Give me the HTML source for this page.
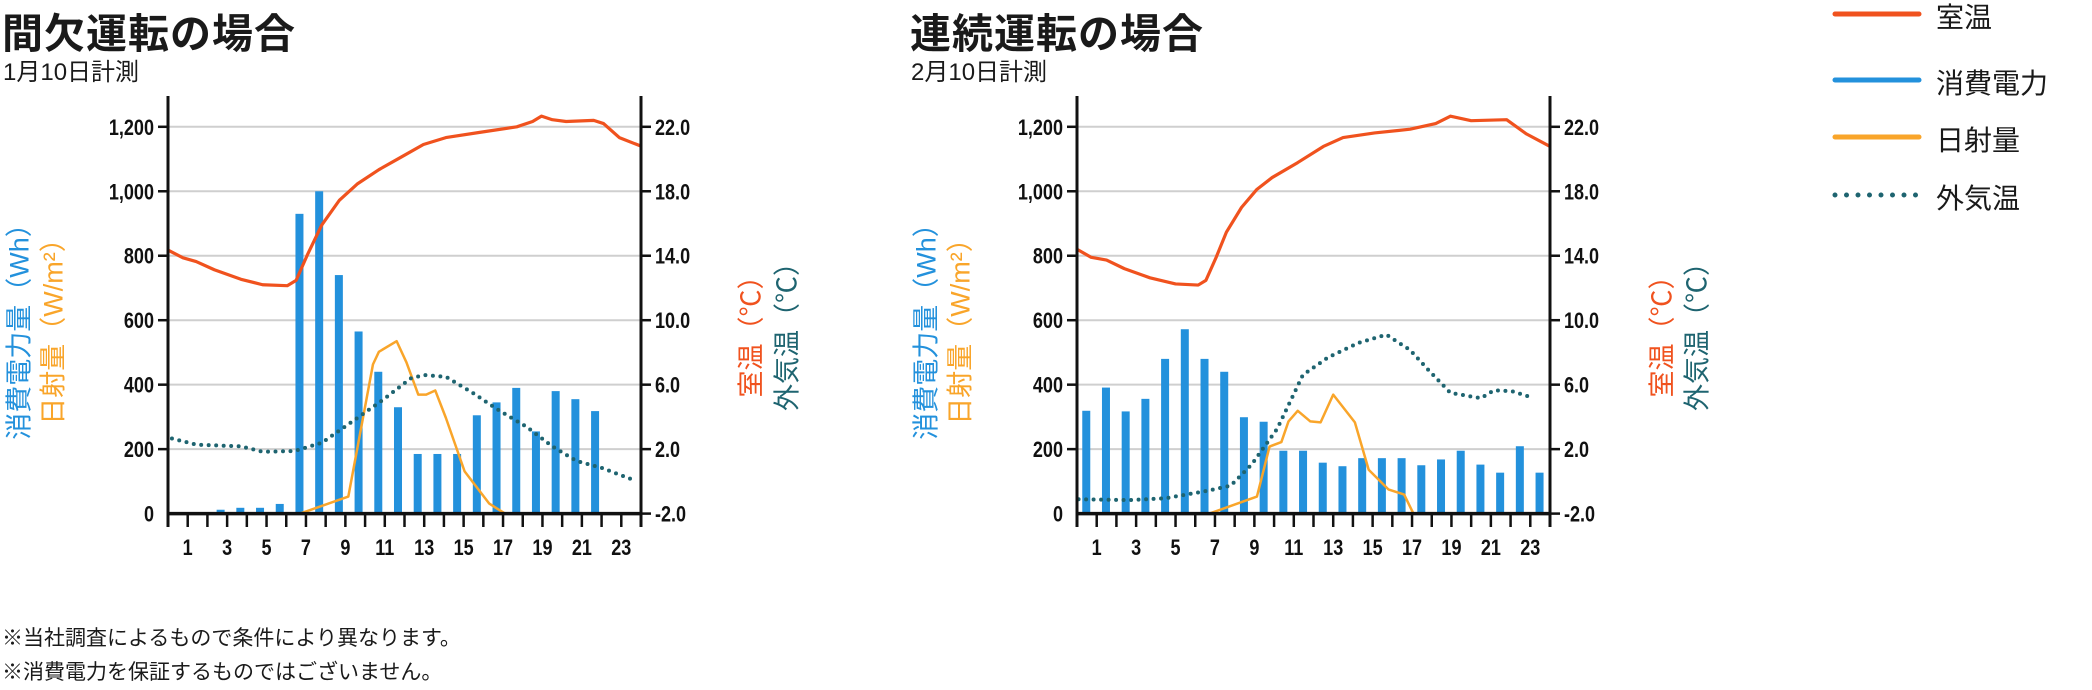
<!DOCTYPE html>
<html><head><meta charset="utf-8">
<style>
html,body{margin:0;padding:0;background:#fff;}
body{width:2092px;height:690px;position:relative;overflow:hidden;font-family:"Liberation Sans","Noto Sans CJK JP",sans-serif;color:#1a1a1a;}
.t{position:absolute;white-space:nowrap;}
.title{font-size:41px;font-weight:bold;top:0px;letter-spacing:1px;}
.sub{font-size:24px;top:52px;}
.note{font-size:21px;left:2px;}
.leg{font-size:28px;left:1936px;}
.vlab{position:absolute;white-space:nowrap;font-size:27px;transform-origin:center center;transform:translate(-50%,-50%) rotate(-90deg);}
</style></head>
<body>
<div class="t title" style="left:2px;">間欠運転の場合</div>
<div class="t sub" style="left:3px;">1月10日計測</div>
<div class="t title" style="left:910px;">連続運転の場合</div>
<div class="t sub" style="left:911px;">2月10日計測</div>

<div class="vlab" style="left:17px;top:325px;color:#2391dc;">消費電力量（Wh）</div>
<div class="vlab" style="left:51px;top:325px;color:#f9a52a;">日射量（W/m²）</div>
<div class="vlab" style="left:749px;top:330px;color:#f0521e;">室温（℃）</div>
<div class="vlab" style="left:785px;top:330px;color:#1e6470;">外気温（℃）</div>
<div class="vlab" style="left:924px;top:325px;color:#2391dc;">消費電力量（Wh）</div>
<div class="vlab" style="left:958px;top:325px;color:#f9a52a;">日射量（W/m²）</div>
<div class="vlab" style="left:1660px;top:330px;color:#f0521e;">室温（℃）</div>
<div class="vlab" style="left:1695px;top:330px;color:#1e6470;">外気温（℃）</div>

<svg width="2092" height="690" style="position:absolute;left:0;top:0;" id="svg">
  <g>
    <line x1="1835" y1="14" x2="1919" y2="14" stroke="#f0521e" stroke-width="5" stroke-linecap="round"/>
    <line x1="1835" y1="80" x2="1919" y2="80" stroke="#2391dc" stroke-width="5" stroke-linecap="round"/>
    <line x1="1835" y1="137" x2="1919" y2="137" stroke="#f9a52a" stroke-width="5" stroke-linecap="round"/>
    <line x1="1835" y1="195" x2="1919" y2="195" stroke="#1e6470" stroke-width="5" stroke-linecap="round" stroke-dasharray="0 11.5"/>
  </g>
</svg>
<div class="t leg" style="top:-4px;">室温</div>
<div class="t leg" style="top:62px;">消費電力</div>
<div class="t leg" style="top:119px;">日射量</div>
<div class="t leg" style="top:177px;">外気温</div>

<div class="t note" style="top:622px;">※当社調査によるもので条件により異なります。</div>
<div class="t note" style="top:656px;">※消費電力を保証するものではございません。</div>

<script>
const leftTicks = [0,200,400,600,800,1000,1200];
const rightTicks = [-2,2,6,10,14,18,22];
const xTickLabels = [1,3,5,7,9,11,13,15,17,19,21,23];

const power1 = [0,0,12,18,18,30,930,1000,740,565,440,330,185,185,185,305,345,390,255,380,355,318,0,0];
const roomT1 = [0,14.35, 0.76,13.87, 1.43,13.64, 2.35,13.13, 3.7,12.54, 4.8,12.2, 6.05,12.14, 6.5,12.47, 7.1,14.13, 7.8,15.9, 8.7,17.45, 9.6,18.45, 10.7,19.34, 11.8,20.1, 12.96,20.9, 14.1,21.33, 15.9,21.67, 17.7,22.0, 18.5,22.33, 18.95,22.66, 19.5,22.44, 20.2,22.33, 21.6,22.4, 22.1,22.2, 22.9,21.33, 24,20.8];
const outT1 = [0.2,2.66, 1.43,2.28, 3.7,2.17, 4.8,1.84, 6.4,1.88, 7.8,2.39, 9.1,3.5, 10.9,5.05, 12.3,6.38, 12.96,6.6, 14.1,6.49, 15.45,5.5, 16.8,4.4, 18.2,3.38, 19.5,2.17, 20.7,1.28, 22,0.84, 23.65,0.07];
const solar1 = [6.7,0, 9.15,53, 10.4,463, 10.7,502, 11.6,535, 12.1,469, 12.7,369, 13.1,369, 13.56,382, 14.1,297, 15.05,131, 16.3,31, 17.1,0];

const power2 = [319,391,317,356,480,572,480,440,299,285,195,195,158,147,172,172,172,150,168,195,152,127,209,127];
const roomT2 = [0,14.4, 0.72,13.9, 1.5,13.73, 2.4,13.2, 3.7,12.63, 5.0,12.25, 6.15,12.18, 6.54,12.47, 7.06,13.9, 7.58,15.46, 8.35,17.0, 9.13,18.12, 9.9,18.85, 11.2,19.78, 12.5,20.78, 13.5,21.33, 15.1,21.62, 16.9,21.85, 18.2,22.2, 18.95,22.66, 20.0,22.38, 21.8,22.44, 22.8,21.56, 24,20.78];
const outT2 = [0.08,-1.11, 2.66,-1.16, 4.47,-1.05, 6.54,-0.6, 7.8,-0.27, 8.87,1.06, 10.16,3.27, 11.46,6.6, 12.75,7.7, 14.3,8.6, 15.7,9.1, 16.9,8.15, 17.9,6.82, 18.95,5.49, 20.5,5.16, 21.15,5.65, 22.06,5.6, 23.2,5.16];
const solar2 = [6.72,0, 9.13,53, 9.77,208, 10.37,222, 10.73,286, 11.2,319, 11.84,286, 12.36,283, 13.0,369, 14.1,283, 14.8,136, 15.8,75, 16.6,59, 17.07,0];

const NS='http://www.w3.org/2000/svg';
const svg=document.getElementById('svg');
function mk(tag,attrs,parent){const e=document.createElementNS(NS,tag);for(const k in attrs)e.setAttribute(k,attrs[k]);(parent||svg).appendChild(e);return e;}

function drawChart(id,x0,x1,barOff,power,roomT,outT,solar){
  const Y0=513.6, YT=126.8;
  const xs=t=>x0+(x1-x0)*t/24;
  const yL=v=>Y0-(Y0-YT)*v/1200;
  const yR=v=>Y0-(Y0-YT)*(v+2)/24;
  const g=mk('g',{});
  
  
  leftTicks.forEach(v=>{
    if(v>0){const gl=mk('line',{x1:x0-8,x2:x1,y1:yL(v),y2:yL(v),stroke:'#cfcfcf','stroke-width':2},g);
    
    
    const tk=mk('line',{x1:x0-10,x2:x0,y1:yL(v),y2:yL(v),stroke:'#111','stroke-width':2.5},g);
    
    }
    const tx=mk('text',{x:x0-14,y:yL(v)+8,'text-anchor':'end','font-size':22,'font-weight':'bold','font-family':'Liberation Sans, sans-serif',fill:'#111',transform:`translate(${x0-14},0) scale(0.82,1) translate(${-(x0-14)},0)`},g);
    tx.textContent=v.toLocaleString('en-US');
    
    
  });
  rightTicks.forEach(v=>{
    const tk=mk('line',{x1:x1,x2:x1+10,y1:yR(v),y2:yR(v),stroke:'#111','stroke-width':2.5},g);
    
    
    const tx=mk('text',{x:x1+14,y:yR(v)+8,'font-size':22,'font-weight':'bold','font-family':'Liberation Sans, sans-serif',fill:'#111',transform:`translate(${x1+14},0) scale(0.82,1) translate(${-(x1+14)},0)`},g);
    tx.textContent=v.toFixed(1);
    
    
  });
  power.forEach((v,i)=>{
    if(v<=0)return;
    const cx=xs(i+barOff);
    const b=mk('rect',{x:cx-4,y:yL(v),width:8,height:Y0-yL(v),fill:'#2391dc'},g);
    
    
  });
  const solarPts=[];for(let i=0;i<solar.length;i+=2)solarPts.push(xs(solar[i])+','+yL(solar[i+1]));
  const sl=mk('polyline',{points:solarPts.join(' '),fill:'none',stroke:'#f9a52a','stroke-width':2.5,'stroke-linejoin':'round'},g);
  
  
  const oPts=[];for(let i=0;i<outT.length;i+=2)oPts.push(xs(outT[i])+','+yR(outT[i+1]));
  const ol=mk('polyline',{points:oPts.join(' '),fill:'none',stroke:'#1e6470','stroke-width':4,'stroke-linecap':'round','stroke-dasharray':'0 7.5','stroke-linejoin':'round'},g);
  
  
  const rPts=[];for(let i=0;i<roomT.length;i+=2)rPts.push(xs(roomT[i])+','+yR(roomT[i+1]));
  const rl=mk('polyline',{points:rPts.join(' '),fill:'none',stroke:'#f0521e','stroke-width':3.2,'stroke-linejoin':'round'},g);
  
  
  const la=mk('line',{x1:x0,x2:x0,y1:96,y2:527,stroke:'#111','stroke-width':3},g);
  
  
  const ra=mk('line',{x1:x1,x2:x1,y1:96,y2:527,stroke:'#111','stroke-width':3},g);
  
  
  const bl=mk('line',{x1:x0,x2:x1,y1:Y0,y2:Y0,stroke:'#111','stroke-width':3.5},g);
  
  
  for(let k=1;k<24;k++){
    const tk=mk('line',{x1:xs(k),x2:xs(k),y1:Y0,y2:527,stroke:'#111','stroke-width':2.5},g);
    
    
  }
  xTickLabels.forEach(k=>{
    const tx=mk('text',{x:xs(k),y:555,'text-anchor':'middle','font-size':22,'font-weight':'bold','font-family':'Liberation Sans, sans-serif',fill:'#111',transform:`translate(${xs(k)},0) scale(0.82,1) translate(${-xs(k)},0)`},g);
    tx.textContent=k;
    
    
  });
}
drawChart('chart1',168,641,0.67,power1,roomT1,outT1,solar1);
drawChart('chart2',1077,1550,0.47,power2,roomT2,outT2,solar2);
</script>
</body></html>
